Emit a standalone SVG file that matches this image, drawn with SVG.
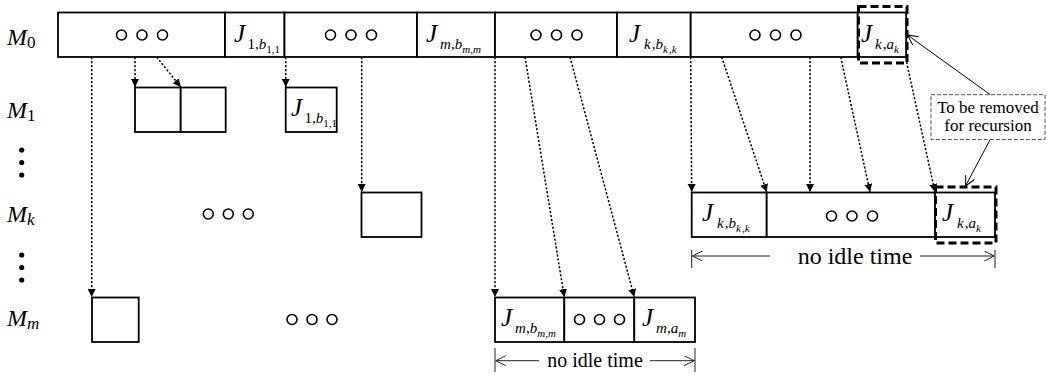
<svg xmlns="http://www.w3.org/2000/svg" width="1047" height="374" viewBox="0 0 1047 374">
  <style>
    .box { fill: #fff; stroke: #000; stroke-width: 1.8; }
    .cut { fill: none; stroke: #000; stroke-width: 3; stroke-dasharray: 8 4; }
    .dot { fill: none; stroke: #000; stroke-width: 1.6; }
    .pt { fill: #000; }
    .flow { fill: none; stroke: #000; stroke-width: 1.5; stroke-dasharray: 2.2 1.8; marker-end: url(#head); }
    .thin { fill: none; stroke: #000; stroke-width: 1; }
    .span { fill: none; stroke: #222; stroke-width: 1; }
    .note { fill: #fff; stroke: #555; stroke-width: 1; stroke-dasharray: 4 2; }
    text { font-family: "Liberation Serif", "Times New Roman", serif; fill: #000; }
    .row { font-size: 24px; font-style: italic; }
    .rs { font-size: 17px; }
    .J { font-size: 25px; font-style: italic; }
    .s1 { font-size: 15px; font-style: normal; }
    .s2 { font-size: 11px; font-style: normal; }
    .it { font-style: italic; }
    .cap { font-size: 17px; text-anchor: middle; }
    .idle { text-anchor: middle; }
  </style>
  <defs>
    <marker id="head" markerUnits="userSpaceOnUse" markerWidth="9" markerHeight="9" refX="8" refY="4" orient="auto">
      <path d="M0,0 L8,4 L0,8 z" fill="#000"/>
    </marker>
    <marker id="open" markerUnits="userSpaceOnUse" markerWidth="12" markerHeight="12" refX="10" refY="5" orient="auto">
      <path d="M0,0 L10,5 L0,10" fill="none" stroke="#000" stroke-width="1"/>
    </marker>
    <marker id="openg" markerUnits="userSpaceOnUse" markerWidth="12" markerHeight="12" refX="10" refY="5" orient="auto">
      <path d="M0,0 L10,5 L0,10" fill="none" stroke="#222" stroke-width="1"/>
    </marker>
  </defs>

  <!-- machine labels -->
  <g id="labels">
    <text class="row" x="7" y="45">M<tspan class="rs" font-style="normal" dy="3">0</tspan></text>
    <text class="row" x="7" y="118">M<tspan class="rs" font-style="normal" dy="3">1</tspan></text>
    <text class="row" x="7" y="222">M<tspan class="rs" dy="3">k</tspan></text>
    <text class="row" x="7" y="326">M<tspan class="rs" dy="3">m</tspan></text>
    <circle class="pt" cx="21.7" cy="150" r="2.6"/>
    <circle class="pt" cx="21.7" cy="162.5" r="2.6"/>
    <circle class="pt" cx="21.7" cy="175" r="2.6"/>
    <circle class="pt" cx="21.7" cy="255" r="2.6"/>
    <circle class="pt" cx="21.7" cy="267.5" r="2.6"/>
    <circle class="pt" cx="21.7" cy="280" r="2.6"/>
  </g>

  <!-- M0 schedule -->
  <g id="m0-a">
    <rect class="box" x="58" y="12.5" width="167" height="44.5"/>
    <circle class="dot" cx="121.5" cy="35" r="5"/>
    <circle class="dot" cx="142" cy="35" r="5"/>
    <circle class="dot" cx="162.5" cy="35" r="5"/>
  </g>
  <g id="m0-j1">
    <rect class="box" x="225" y="12.5" width="59.5" height="44.5"/>
    <text class="J" x="234" y="42">J<tspan class="s1" dx="2.5" dy="7">1,</tspan><tspan class="s1 it">b</tspan><tspan class="s2" dy="4">1,1</tspan></text>
  </g>
  <g id="m0-b">
    <rect class="box" x="284.5" y="12.5" width="132.5" height="44.5"/>
    <circle class="dot" cx="330.5" cy="35" r="5"/>
    <circle class="dot" cx="351" cy="35" r="5"/>
    <circle class="dot" cx="371.5" cy="35" r="5"/>
  </g>
  <g id="m0-jm">
    <rect class="box" x="417" y="12.5" width="78" height="44.5"/>
    <text class="J" x="426" y="42">J<tspan class="s1 it" dx="3" dy="7">m</tspan><tspan class="s1">,</tspan><tspan class="s1 it">b</tspan><tspan class="s2 it" dy="4">m</tspan><tspan class="s2">,</tspan><tspan class="s2 it">m</tspan></text>
  </g>
  <g id="m0-c">
    <rect class="box" x="495" y="12.5" width="122" height="44.5"/>
    <circle class="dot" cx="536" cy="35" r="5"/>
    <circle class="dot" cx="556.5" cy="35" r="5"/>
    <circle class="dot" cx="577" cy="35" r="5"/>
  </g>
  <g id="m0-jk">
    <rect class="box" x="617" y="12.5" width="73.7" height="44.5"/>
    <text class="J" x="629" y="42">J<tspan class="s1 it" dx="4" dy="7">k</tspan><tspan class="s1" dx="1">,</tspan><tspan class="s1 it">b</tspan><tspan class="s2 it" dy="4">k</tspan><tspan class="s2" dx="1">,</tspan><tspan class="s2 it">k</tspan></text>
  </g>
  <g id="m0-d">
    <rect class="box" x="690.7" y="12.5" width="167" height="44.5"/>
    <circle class="dot" cx="755" cy="35" r="5"/>
    <circle class="dot" cx="775.5" cy="35" r="5"/>
    <circle class="dot" cx="796" cy="35" r="5"/>
  </g>
  <g id="m0-jka">
    <rect class="box" x="857.7" y="12.5" width="48.5" height="44.5"/>
    <rect class="cut" x="858.5" y="6.5" width="48.5" height="56.5"/>
    <text class="J" x="861" y="42">J<tspan class="s1 it" dx="3" dy="7">k</tspan><tspan class="s1" dx="1">,</tspan><tspan class="s1 it">a</tspan><tspan class="s2 it" dy="4">k</tspan></text>
  </g>

  <!-- M1 schedule -->
  <g id="m1-a">
    <rect class="box" x="135" y="87.5" width="45.7" height="44.5"/>
  </g>
  <g id="m1-b">
    <rect class="box" x="180.7" y="87.5" width="45" height="44.5"/>
  </g>
  <g id="m1-j1">
    <rect class="box" x="285.7" y="87.5" width="51" height="44.5"/>
    <text class="J" x="291" y="116">J<tspan class="s1" dx="2.5" dy="7">1,</tspan><tspan class="s1 it">b</tspan><tspan class="s2" dy="4">1,1</tspan></text>
  </g>

  <!-- Mk schedule -->
  <g id="mk-gap">
    <circle class="dot" cx="208.3" cy="214" r="5"/>
    <circle class="dot" cx="228.3" cy="214" r="5"/>
    <circle class="dot" cx="248.3" cy="214" r="5"/>
  </g>
  <g id="mk-a">
    <rect class="box" x="361.5" y="192.5" width="60" height="44.5"/>
  </g>
  <g id="mk-jb">
    <rect class="box" x="691.7" y="192.5" width="75" height="44.5"/>
    <text class="J" x="702" y="221">J<tspan class="s1 it" dx="4" dy="7">k</tspan><tspan class="s1" dx="1">,</tspan><tspan class="s1 it">b</tspan><tspan class="s2 it" dy="4">k</tspan><tspan class="s2" dx="1">,</tspan><tspan class="s2 it">k</tspan></text>
  </g>
  <g id="mk-mid">
    <rect class="box" x="766.7" y="192.5" width="168.3" height="44.5"/>
    <circle class="dot" cx="831.5" cy="216" r="5"/>
    <circle class="dot" cx="852" cy="216" r="5"/>
    <circle class="dot" cx="872.5" cy="216" r="5"/>
  </g>
  <g id="mk-ja">
    <rect class="box" x="935" y="192.5" width="60" height="44.5"/>
    <rect class="cut" x="935.5" y="187" width="60.5" height="56"/>
    <text class="J" x="942" y="221">J<tspan class="s1 it" dx="4" dy="7">k</tspan><tspan class="s1" dx="1">,</tspan><tspan class="s1 it">a</tspan><tspan class="s2 it" dy="4">k</tspan></text>
  </g>
  <g id="mk-span">
    <line class="span" x1="691.7" y1="250" x2="691.7" y2="268"/>
    <line class="span" x1="995" y1="250" x2="995" y2="268"/>
    <line class="span" x1="770" y1="256" x2="692.5" y2="256" marker-end="url(#openg)"/>
    <line class="span" x1="920" y1="256" x2="994.2" y2="256" marker-end="url(#openg)"/>
    <text class="idle" x="855" y="264" font-size="24">no idle time</text>
  </g>

  <!-- Mm schedule -->
  <g id="mm-a">
    <rect class="box" x="92" y="297.5" width="46.7" height="44.5"/>
  </g>
  <g id="mm-gap">
    <circle class="dot" cx="292" cy="319.5" r="5"/>
    <circle class="dot" cx="312" cy="319.5" r="5"/>
    <circle class="dot" cx="332" cy="319.5" r="5"/>
  </g>
  <g id="mm-jb">
    <rect class="box" x="495" y="297.5" width="69.3" height="44.5"/>
    <text class="J" x="501" y="326">J<tspan class="s1 it" dx="3" dy="7">m</tspan><tspan class="s1">,</tspan><tspan class="s1 it">b</tspan><tspan class="s2 it" dy="4">m</tspan><tspan class="s2">,</tspan><tspan class="s2 it">m</tspan></text>
  </g>
  <g id="mm-mid">
    <rect class="box" x="564.3" y="297.5" width="70" height="44.5"/>
    <circle class="dot" cx="579.5" cy="319.5" r="5"/>
    <circle class="dot" cx="599.5" cy="319.5" r="5"/>
    <circle class="dot" cx="619.5" cy="319.5" r="5"/>
  </g>
  <g id="mm-ja">
    <rect class="box" x="634.3" y="297.5" width="60.7" height="44.5"/>
    <text class="J" x="642" y="326">J<tspan class="s1 it" dx="3" dy="7">m</tspan><tspan class="s1">,</tspan><tspan class="s1 it">a</tspan><tspan class="s2 it" dy="4">m</tspan></text>
  </g>
  <g id="mm-span">
    <line class="span" x1="495" y1="348" x2="495" y2="372"/>
    <line class="span" x1="695" y1="348" x2="695" y2="372"/>
    <line class="span" x1="539" y1="360.7" x2="495.8" y2="360.7" marker-end="url(#openg)"/>
    <line class="span" x1="650" y1="360.7" x2="694.2" y2="360.7" marker-end="url(#openg)"/>
    <text class="idle" x="595" y="367" font-size="20">no idle time</text>
  </g>

  <!-- callout -->
  <g id="note">
    <rect class="note" x="931" y="94.7" width="114" height="44.8"/>
    <text class="cap" x="988" y="112.5">To be removed</text>
    <text class="cap" x="988" y="131">for recursion</text>
  </g>

  <!-- job assignment connectors -->
  <g id="connectors">
    <line class="flow" x1="91.7" y1="57" x2="91.7" y2="297"/>
    <line class="flow" x1="135" y1="57" x2="135" y2="87"/>
    <line class="flow" x1="156.7" y1="57" x2="180.7" y2="87"/>
    <line class="flow" x1="285.7" y1="57" x2="285.7" y2="87"/>
    <line class="flow" x1="361.7" y1="57" x2="361.7" y2="192"/>
    <line class="flow" x1="495" y1="57" x2="495" y2="297"/>
    <line class="flow" x1="525" y1="57" x2="564.3" y2="297"/>
    <line class="flow" x1="570" y1="57" x2="634.3" y2="297"/>
    <line class="flow" x1="690.7" y1="57" x2="691.7" y2="192"/>
    <line class="flow" x1="721.7" y1="57" x2="766.7" y2="192"/>
    <line class="flow" x1="810" y1="57" x2="810" y2="192"/>
    <line class="flow" x1="840.7" y1="57" x2="870" y2="192"/>
    <line class="flow" x1="906.5" y1="62" x2="935" y2="192"/>
    <line class="thin" x1="990" y1="94.5" x2="907.5" y2="35" marker-end="url(#open)"/>
    <line class="thin" x1="990" y1="139.8" x2="965.5" y2="186" marker-end="url(#open)"/>
  </g>
</svg>
